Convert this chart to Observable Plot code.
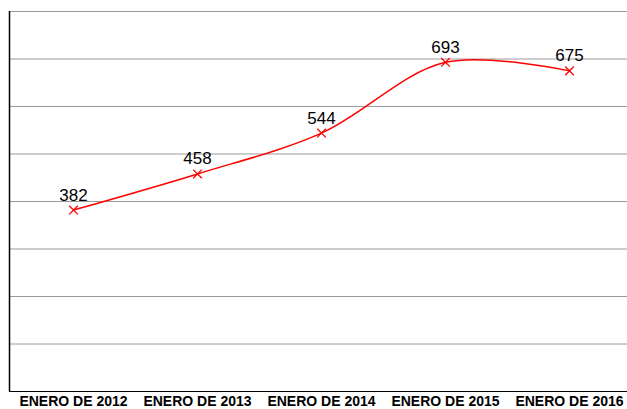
<!DOCTYPE html>
<html>
<head>
<meta charset="utf-8">
<script src="https://cdn.jsdelivr.net/npm/d3@7"></script>
<script src="https://cdn.jsdelivr.net/npm/@observablehq/plot@0.6"></script>
<style>
  html, body { margin: 0; padding: 0; background: #fff; }
</style>
</head>
<body>
<div id="chart"></div>
<script>
const categories = ["ENERO DE 2012", "ENERO DE 2013", "ENERO DE 2014", "ENERO DE 2015", "ENERO DE 2016"];
const values = [382, 458, 544, 693, 675];
const yTicks = [100, 200, 300, 400, 500, 600, 700, 800];

const data = categories.map((c, i) => ({cat: c, v: values[i]}));

const chart = Plot.plot({
  width: 627,
  height: 409,
  marginLeft: 9,
  marginRight: 0,
  marginTop: 11,
  marginBottom: 18,
  style: {fontFamily: "'Liberation Sans', Arial, sans-serif", background: "#fff", overflow: "visible"},
  x: {type: "point", domain: categories, range: [72, 570], padding: 0},
  y: {domain: [0, 800], axis: null},
  marks: [
    Plot.ruleY(yTicks, {stroke: "#9a9a9a", strokeWidth: 1}),
    Plot.ruleY([0], {stroke: "#000", strokeWidth: 1}),
    Plot.axisX({tickSize: 0, tickPadding: 5, fontSize: 14, fontWeight: "bold", label: null, fill: "#000"}),
    Plot.line(data, {x: "cat", y: "v", stroke: "#ff0000", strokeWidth: 1.5, curve: "catmull-rom"}),
    Plot.dot(data, {x: "cat", y: "v", symbol: "times", r: 4, stroke: "#ff0000", strokeWidth: 1.3}),
    Plot.text(data, {x: "cat", y: "v", text: d => String(d.v), dy: -15, fontSize: 17, fill: "#000"})
  ]
});

// left axis line
const svg = d3.select(chart);
svg.append("line")
  .attr("x1", 9.5).attr("x2", 9.5)
  .attr("y1", 11).attr("y2", 391.5)
  .attr("stroke", "#000").attr("stroke-width", 1.5);

document.getElementById("chart").appendChild(chart);
</script>
</body>
</html>
